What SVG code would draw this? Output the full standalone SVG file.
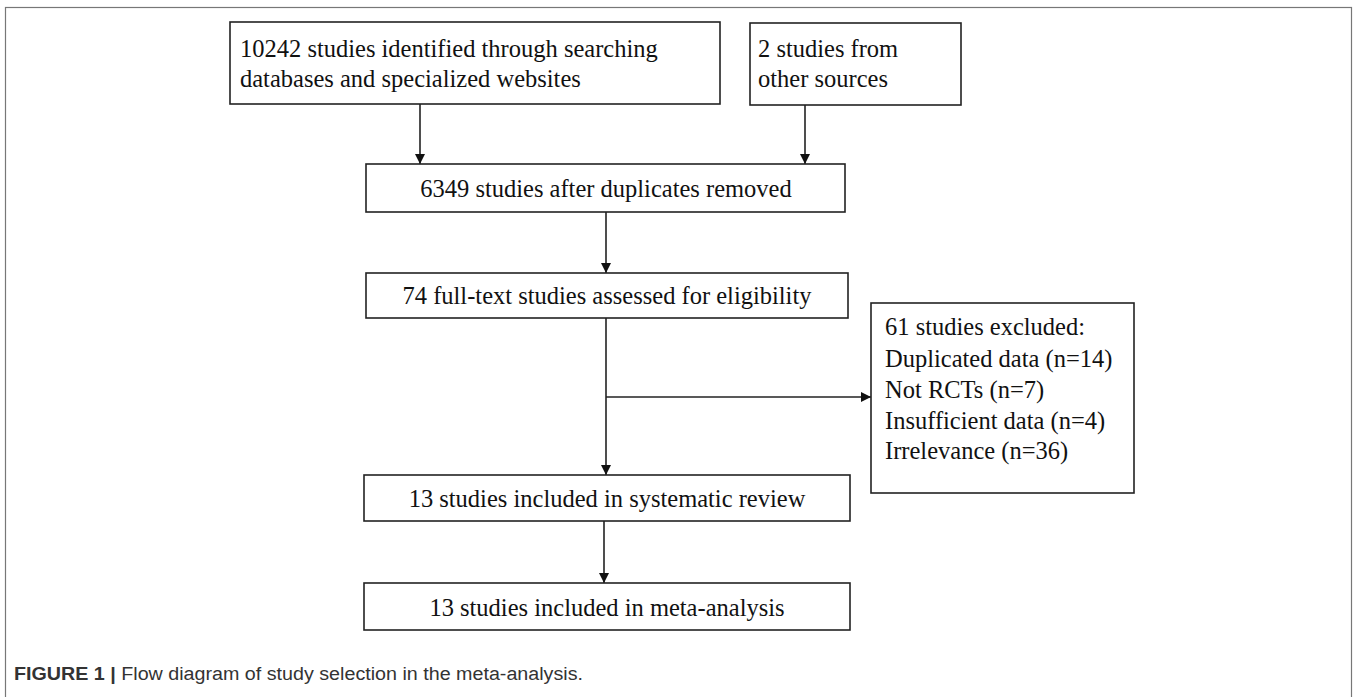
<svg xmlns="http://www.w3.org/2000/svg" width="1358" height="697" viewBox="0 0 1358 697">
<style>
.box{fill:#fff;stroke:#222;stroke-width:1.6}
.t{font-family:"Liberation Serif","Times New Roman",serif;font-size:24.5px;fill:#111}
.c{text-anchor:middle}
.ln{stroke:#222;stroke-width:1.6;fill:none}
.cap{font-family:"Liberation Sans",Arial,sans-serif;font-size:18px;fill:#333}
</style>
<defs>
<marker id="ah" viewBox="0 0 10 10" refX="10" refY="5" markerWidth="10" markerHeight="10" markerUnits="userSpaceOnUse" orient="auto">
<path d="M0,0 L10,5 L0,10 z" fill="#111"/>
</marker>
</defs>
<rect x="0" y="0" width="1358" height="697" fill="#fff"/>
<rect x="5.5" y="7.5" width="1346" height="700" fill="none" stroke="#777" stroke-width="1.2"/>
<g id="connectors">
<line class="ln" x1="420" y1="104" x2="420" y2="164" marker-end="url(#ah)"/>
<line class="ln" x1="805" y1="105" x2="805" y2="164" marker-end="url(#ah)"/>
<line class="ln" x1="606" y1="212" x2="606" y2="273" marker-end="url(#ah)"/>
<line class="ln" x1="606" y1="318" x2="606" y2="475" marker-end="url(#ah)"/>
<line class="ln" x1="606" y1="397" x2="871" y2="397" marker-end="url(#ah)"/>
<line class="ln" x1="604" y1="521" x2="604" y2="583" marker-end="url(#ah)"/>
</g>
<g id="n1">
<rect class="box" x="230" y="22" width="490" height="82"/>
<text class="t" x="240" y="57">10242 studies identified through searching</text>
<text class="t" x="240" y="87">databases and specialized websites</text>
</g>
<g id="n2">
<rect class="box" x="750" y="23" width="211" height="82"/>
<text class="t" x="758" y="57">2 studies from</text>
<text class="t" x="758" y="87">other sources</text>
</g>
<g id="n3">
<rect class="box" x="366" y="164" width="479" height="48"/>
<text class="t c" x="606" y="197">6349 studies after duplicates removed</text>
</g>
<g id="n4">
<rect class="box" x="366" y="273" width="482" height="45"/>
<text class="t c" x="607" y="304">74 full-text studies assessed for eligibility</text>
</g>
<g id="n5">
<rect class="box" x="871" y="303" width="263" height="190"/>
<text class="t" x="885" y="335">61 studies excluded:</text>
<text class="t" x="885" y="367">Duplicated data (n=14)</text>
<text class="t" x="885" y="398">Not RCTs (n=7)</text>
<text class="t" x="885" y="429">Insufficient data (n=4)</text>
<text class="t" x="885" y="459">Irrelevance (n=36)</text>
</g>
<g id="n6">
<rect class="box" x="364" y="475" width="486" height="46"/>
<text class="t c" x="607" y="507">13 studies included in systematic review</text>
</g>
<g id="n7">
<rect class="box" x="364" y="583" width="486" height="47"/>
<text class="t c" x="607" y="616">13 studies included in meta-analysis</text>
</g>
<text class="cap" x="14" y="680" textLength="569" lengthAdjust="spacingAndGlyphs"><tspan font-weight="bold">FIGURE 1 |</tspan> Flow diagram of study selection in the meta-analysis.</text>
</svg>
